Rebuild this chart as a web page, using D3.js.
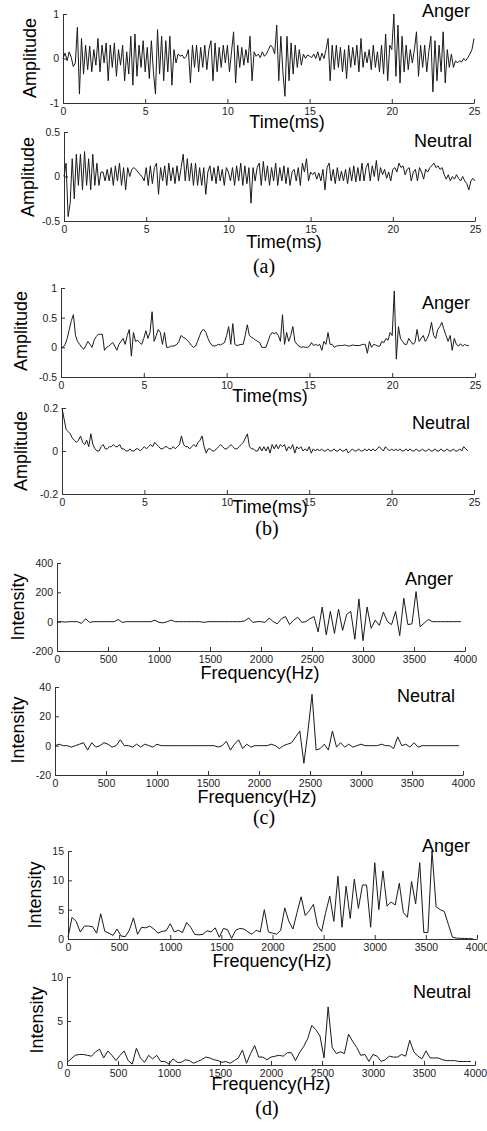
<!DOCTYPE html>
<html><head><meta charset="utf-8">
<script src="https://cdn.jsdelivr.net/npm/d3@7"></script>
<style>
html,body{margin:0;padding:0;background:#fff;}
svg{display:block;}
</style></head><body>
<svg id="c" width="487" height="1131"></svg>
<script>
// ---------------- DATA ----------------
const timeTicks = [0, 5, 10, 15, 20, 25];
const freqTicks = [0, 500, 1000, 1500, 2000, 2500, 3000, 3500, 4000];
const timeStepMs = 0.125;   // 8 kHz sampling
const freqStepHz = 40;      // FFT bin spacing

const yTicksWaveAnger = [-1, 0, 1];
const yTicksWaveNeutral = [-0.5, 0, 0.5];
const yTicksEnvAnger = [-0.5, 0, 0.5, 1];
const yTicksEnvNeutral = [-0.2, 0, 0.2];
const yTicksSpecAnger = [-200, 0, 200, 400];
const yTicksSpecNeutral = [-20, 0, 20, 40];
const yTicksMagAnger = [0, 5, 10, 15];
const yTicksMagNeutral = [0, 5, 10];

// (a) time waveform, Anger (one row per ms)
const angerWave = [
 0.0, 0.12, -0.05, 0.15, 0.03, -0.18, -0.1, 0.7,
 -0.8, 0.45, -0.35, 0.3, -0.25, 0.28, -0.3, 0.2,
 -0.15, 0.45, -0.3, 0.3, -0.1, 0.35, -0.5, 0.3,
 -0.2, 0.35, -0.4, 0.2, -0.15, 0.3, -0.5, 0.15,
 -0.35, 0.5, -0.6, 0.55, -0.4, 0.3, -0.2, 0.4,
 -0.3, 0.25, -0.45, 0.4, -0.3, -0.8, 0.65, -0.35,
 0.5, -0.5, 0.4, -0.3, 0.5, -0.6, 0.2, -0.1,
 0.1, 0.05, 0.08, 0.0, 0.05, 0.2, -0.55, 0.3,
 -0.2, 0.3, -0.3, 0.25, -0.2, 0.3, -0.25, 0.2,
 0.4, -0.5, 0.35, -0.3, 0.25, -0.2, 0.3, -0.1,
 0.3, -0.3, 0.15, 0.6, -0.55, 0.3, -0.2, 0.25,
 -0.15, 0.2, -0.1, 0.5, -0.5, 0.15, 0.05, 0.1,
 0.02, 0.15, 0.05, 0.1, 0.2, 0.3, 0.25, 0.1,
 0.75, -0.5, 0.5, -0.3, -0.85, 0.5, -0.5, 0.35,
 -0.35, 0.3, -0.2, 0.2, -0.15, 0.1, 0.0, 0.08,
 0.05, 0.02, 0.1, 0.0, 0.15, -0.05, 0.12, 0.0,
 0.2, 0.45, -0.5, 0.3, -0.25, 0.3, -0.2, 0.25,
 -0.3, 0.2, -0.45, 0.3, -0.2, 0.25, -0.15, 0.3,
 -0.3, 0.45, -0.2, 0.15, -0.1, 0.2, -0.25, 0.3,
 -0.2, 0.15, -0.3, 0.3, -0.35, 0.55, -0.5, 0.3,
 0.2, 1.0, -0.4, 0.75, -0.55, 0.5, -0.3, 0.3,
 -0.25, 0.2, -0.1, 0.2, 0.6, -0.4, 0.3, -0.2,
 0.3, -0.3, 0.15, 0.5, -0.75, 0.4, -0.5, 0.3,
 -0.3, 0.6, -0.55, 0.2, -0.2, 0.1, -0.2, -0.05,
 -0.1, -0.05, -0.08, 0.0, -0.05, 0.02, 0.1, 0.2,
 0.45
];

// (a) time waveform, Neutral
const neutralWave = [
 0.0, 0.15, -0.45, -0.3, 0.2, -0.25, 0.25, -0.1,
 0.25, -0.15, 0.28, -0.1, 0.2, -0.15, 0.25, -0.1,
 0.15, -0.1, 0.05, 0.05, -0.05, 0.08, -0.05, 0.1,
 -0.1, 0.12, -0.05, 0.15, -0.1, 0.1, -0.15, 0.1,
 0.0, 0.08, 0.1, 0.08, 0.05, 0.02, 0.0, -0.05,
 0.1, -0.1, 0.12, -0.08, 0.1, 0.15, -0.2, 0.1,
 -0.05, 0.12, -0.1, 0.15, -0.05, 0.1, -0.08, 0.12,
 -0.05, 0.1, 0.25, -0.05, 0.2, -0.05, 0.15, -0.1,
 0.15, -0.1, 0.1, -0.1, 0.1, -0.2, 0.05, 0.12,
 -0.05, 0.1, -0.08, 0.12, -0.05, 0.08, -0.1, 0.1,
 0.05, -0.05, 0.1, -0.1, 0.12, -0.05, 0.15, -0.1,
 0.12, -0.08, 0.1, -0.3, 0.1, -0.05, 0.1, 0.15,
 -0.1, 0.17, -0.05, 0.12, -0.1, 0.1, -0.05, 0.15,
 -0.1, 0.1, -0.05, 0.12, -0.08, 0.1, -0.1, 0.05,
 0.08, -0.05, 0.1, -0.1, 0.15, 0.05, 0.2, -0.05,
 0.05, 0.02, 0.05, -0.03, 0.04, -0.05, 0.08, -0.15,
 0.1, 0.15, -0.05, 0.08, -0.08, 0.1, -0.05, 0.06,
 -0.05, 0.08, -0.08, 0.1, -0.05, 0.12, -0.06, 0.1,
 -0.05, 0.15, -0.05, 0.1, 0.15, -0.05, 0.12, 0.0,
 0.18, -0.05, 0.1, 0.02, 0.08, -0.02, 0.05, -0.05,
 0.08, 0.1, 0.05, 0.15, 0.1, 0.12, 0.02, 0.08,
 0.1, -0.05, 0.05, 0.08, -0.05, 0.1, 0.05, -0.03,
 0.08, 0.05, 0.1, 0.12, 0.15, 0.1, 0.12, 0.08,
 0.1, 0.02, -0.03, 0.02, -0.05, 0.0, -0.03, 0.02,
 -0.02, -0.05, 0.0, -0.05, -0.08, -0.15, -0.05, -0.02,
 -0.05
];

// (b) Teager-energy-like contour, Anger
const angerEnv = [
 0.0, 0.0, 0.05, 0.15, 0.3, 0.45, 0.55, 0.2,
 0.1, 0.05, 0.0, -0.03, 0.03, 0.1, 0.05, 0.0,
 0.12, 0.18, 0.22, 0.22, 0.22, -0.05, 0.0, 0.02,
 0.05, 0.08, 0.02, -0.05, 0.05, 0.1, 0.15, 0.05,
 0.2, 0.3, -0.15, 0.25, 0.1, 0.12, 0.08, 0.05,
 0.15, 0.28, 0.15, 0.25, 0.6, 0.1, 0.2, 0.3,
 0.25, 0.05, 0.25, 0.0, 0.0, 0.02, 0.02, 0.03,
 0.05, 0.1, 0.2, 0.17, 0.15, 0.12, 0.08, 0.03,
 0.0, 0.02, 0.1, 0.2, 0.28, 0.3, 0.25, 0.15,
 0.08, 0.03, 0.02, 0.03, 0.05, 0.04, 0.06, 0.08,
 0.2, 0.35, 0.05, 0.4, 0.05, 0.03, 0.04, 0.05,
 0.05, 0.2, 0.38, 0.2, 0.17, 0.15, 0.12, 0.1,
 0.08, 0.0, 0.0, 0.0, 0.1, 0.2, 0.25, 0.23,
 0.25, 0.2, 0.1, 0.55, 0.05, 0.25, 0.1, 0.2,
 0.35, 0.1, 0.05, 0.02, 0.0, 0.01, 0.0, 0.0,
 0.02, 0.08, 0.03, 0.05, 0.03, 0.05, -0.05, 0.1,
 0.05, 0.25, 0.05, 0.05, 0.0, 0.02, 0.03, 0.03,
 0.03, 0.04, 0.03, 0.02, 0.03, 0.04, 0.03, 0.03,
 0.03, 0.04, 0.05, 0.05, -0.1, 0.1, 0.0, 0.05,
 0.04, 0.02, 0.02, 0.1, 0.08, 0.15, 0.12, 0.25,
 0.2, 0.95, -0.2, 0.35, 0.15, 0.1, 0.05, 0.05,
 0.15, 0.1, 0.05, 0.08, 0.3, 0.1, 0.15, 0.2,
 0.1, 0.15, 0.25, 0.42, 0.2, 0.15, 0.3, 0.35,
 0.42, 0.3, 0.2, 0.1, 0.2, -0.05, 0.15, 0.05,
 0.02, 0.06, 0.02, 0.05, 0.03, 0.03
];

// (b) contour, Neutral
const neutralEnv = [
 0.2, 0.15, 0.1, 0.09, 0.08, 0.06, 0.05, 0.04,
 0.05, 0.07, 0.04, 0.03, 0.05, 0.02, 0.08, 0.03,
 0.01, 0.0, 0.0, 0.02, 0.03, 0.01, 0.01, 0.02,
 0.02, 0.03, 0.02, 0.02, 0.03, 0.01, 0.01, 0.0,
 0.0, 0.01, 0.0, 0.0, 0.01, 0.01, 0.0, 0.01,
 0.02, 0.01, 0.02, 0.03, 0.02, 0.04, 0.03, 0.02,
 0.01, 0.01, 0.02, 0.02, 0.01, 0.01, 0.02, 0.01,
 0.02, 0.03, 0.07, 0.03, 0.02, 0.02, 0.01, 0.02,
 0.03, 0.02, 0.04, 0.05, 0.07, 0.02, -0.01, 0.01,
 0.01, 0.0, 0.0, 0.01, 0.02, 0.03, 0.02, 0.01,
 0.01, 0.02, 0.03, 0.02, 0.01, 0.01, 0.02, 0.03,
 0.04, 0.06, 0.08, 0.02, 0.01, 0.01, 0.0, 0.0,
 0.02, 0.0, 0.02, 0.0, 0.02, -0.01, 0.03, 0.01,
 0.03, 0.01, 0.03, 0.02, 0.03, 0.0, 0.02, 0.01,
 0.03, -0.01, 0.02, 0.01, 0.02, 0.0, 0.01, 0.0,
 0.02, -0.01, 0.01, 0.0, 0.01, 0.0, 0.01, 0.0,
 0.0, 0.01, 0.0, 0.0, 0.01, 0.0, 0.0, 0.01,
 0.0, 0.0, 0.01, -0.01, 0.0, 0.01, 0.0, 0.0,
 0.01, 0.0, 0.0, 0.01, 0.0, 0.01, 0.0, 0.01,
 0.0, 0.01, 0.02, 0.01, 0.0, 0.02, 0.01, 0.0,
 0.01, 0.0, 0.01, 0.0, 0.01, 0.0, 0.0, 0.01,
 0.0, 0.01, 0.0, 0.0, 0.01, 0.0, 0.0, 0.01,
 0.0, 0.0, 0.01, 0.0, 0.0, 0.01, 0.0, 0.0,
 0.01, 0.0, 0.0, 0.01, 0.0, 0.0, 0.01, 0.0,
 0.0, 0.01, 0.0, 0.02, 0.01, 0.0
];

// (c) spectrum (signed), Anger — bins of 40 Hz
const angerSpec = [
 0, 0, -3, 0, 0, 0, -12, 20, -5, 0,
 0, 0, 0, 0, 0, 15, -5, 0, 0, 0,
 0, 0, 0, 0, 10, -5, -8, 0, 10, 0,
 0, 0, 0, 0, 0, 0, -5, 0, 0, 0,
 0, 0, 0, 0, 0, 0, 5, 25, -5, 0,
 0, -5, 25, 0, -15, 20, 35, -20, 10, 30,
 -5, 0, 20, 35, -70, 100, -90, 70, -80, 85,
 -60, 50, 70, -120, 155, -130, 100, -45, 10, -25,
 65, 0, -20, 70, -95, 160, -20, -15, 205, -35,
 -10, 15, 0, 0, 0, 0, 0, 0, 0, 0
];

// (c) spectrum (signed), Neutral
const neutralSpec = [
 0, 1, 0, 0, -1, 0, 1, 2, -3, 2,
 -1, 0, 2, 1, -1, 0, 4, 0, 0, -1,
 1, -1, 1, 0, -1, 1, 0, 0, 0, 0,
 0, 0, 0, 0, 0, 0, 0, 0, 0, 0,
 -1, 0, 3, -3, 1, 4, -2, 1, -1, 0,
 0, 0, 0, 1, 0, -2, 0, 1, 2, 6,
 10, -12, 10, 35, -3, -2, 1, -3, 10, -1,
 2, -1, 1, -1, 0, 1, 0, 0, 0, 0,
 1, 0, 0, -2, 6, 0, 1, -1, 2, -1,
 0, 0, 0, 0, 0, 0, 0, 0, 0, 0
];

// (d) magnitude spectrum, Anger
const angerMag = [
 0.3, 3.7, 3.0, 1.2, 2.2, 2.2, 2.1, 1.0, 4.3, 1.3,
 1.0, 0.6, 1.7, 0.5, 0.4, 1.5, 3.6, 0.8, 2.0, 1.9,
 2.2, 1.7, 1.0, 1.3, 1.4, 2.6, 1.2, 1.5, 1.1, 2.8,
 2.0, 0.8, 0.7, 0.8, 1.4, 1.2, 1.9, 0.3, 1.8, 1.6,
 0.1, 1.5, 1.8, 1.7, 1.2, 0.8, 1.5, 1.2, 5.0, 1.2,
 1.0, 0.8, 1.5, 5.3, 3.0, 1.7, 4.5, 7.2, 4.0, 4.8,
 5.9, 2.3, 1.3, 4.5, 7.3, 3.0, 10.7, 2.0, 9.0, 3.5,
 10.2, 5.2, 9.2, 9.2, 2.0, 13.0, 5.0, 11.6, 5.6, 6.3,
 5.8, 9.5, 4.5, 3.7, 9.8, 6.0, 13.0, 1.1, 1.1, 15.0,
 5.5, 5.0, 4.7, 2.5, 0.3, 0.15, 0.1, 0.1, 0.05, 0.05
];

// (d) magnitude spectrum, Neutral
const neutralMag = [
 0.3, 0.7, 1.1, 1.2, 1.2, 1.1, 1.0, 1.5, 1.8, 0.8,
 1.6, 1.1, 0.5, 1.1, 1.6, 0.5, 0.1, 1.9, 0.8, 0.3,
 1.1, 0.7, 1.1, 0.4, 0.4, 0.1, 0.7, 0.3, 0.3, 0.6,
 0.5, 0.2, 0.4, 0.6, 0.9, 0.8, 0.6, 0.5, 0.3, 0.4,
 0.2, 0.5, 0.8, 1.7, 0.2, 1.3, 2.2, 0.9, 0.9, 0.6,
 0.9, 1.0, 1.1, 1.0, 1.4, 1.4, 0.5, 1.4, 2.1, 3.0,
 4.5, 4.0, 3.3, 0.8, 6.6, 2.0, 1.3, 1.5, 1.3, 3.5,
 2.7, 2.0, 1.1, 1.2, 0.4, 1.2, 1.0, 0.4, 0.6, 1.0,
 0.9, 0.9, 1.2, 1.0, 2.8, 1.5, 1.0, 0.7, 1.6, 0.8,
 0.8, 0.8, 0.6, 0.5, 0.5, 0.5, 0.4, 0.4, 0.4, 0.4
];

// ---------------- LAYOUT ----------------
const panels = [
 {data: angerWave, step: timeStepMs, xDomain: [0, 25], xTicks: timeTicks, yDomain: [-1, 1], yTicks: yTicksWaveAnger,
  x0: 63, x1: 474, yTop: 14, yBot: 103, yLabel: "Amplitude", yl: [30, 58], xLabel: "Time(ms)", xl: [287, 128], tag: "Anger", tg: [470, 17]},
 {data: neutralWave, step: timeStepMs, xDomain: [0, 25], xTicks: timeTicks, yDomain: [-0.5, 0.5], yTicks: yTicksWaveNeutral,
  x0: 64, x1: 475, yTop: 132, yBot: 221, yLabel: "Amplitude", yl: [28, 177], xLabel: "Time(ms)", xl: [284, 248], tag: "Neutral", tg: [472, 147]},
 {data: angerEnv, step: timeStepMs, xDomain: [0, 25], xTicks: timeTicks, yDomain: [-0.5, 1], yTicks: yTicksEnvAnger,
  x0: 61, x1: 475, yTop: 288, yBot: 377, yLabel: "Amplitude", yl: [21, 331], xLabel: "Time(ms)", xl: [270, 402], tag: "Anger", tg: [470, 309]},
 {data: neutralEnv, step: timeStepMs, xDomain: [0, 25], xTicks: timeTicks, yDomain: [-0.2, 0.2], yTicks: yTicksEnvNeutral,
  x0: 62, x1: 474, yTop: 408, yBot: 494, yLabel: "Amplitude", yl: [21, 451], xLabel: "Time(ms)", xl: [270, 513], tag: "Neutral", tg: [470, 429]},
 {data: angerSpec, step: freqStepHz, xDomain: [0, 4000], xTicks: freqTicks, yDomain: [-200, 400], yTicks: yTicksSpecAnger,
  x0: 57, x1: 465, yTop: 563, yBot: 651, yLabel: "Intensity", yl: [18, 607], xLabel: "Frequency(Hz)", xl: [260, 679], tag: "Anger", tg: [453, 585]},
 {data: neutralSpec, step: freqStepHz, xDomain: [0, 4000], xTicks: freqTicks, yDomain: [-20, 40], yTicks: yTicksSpecNeutral,
  x0: 55, x1: 463, yTop: 687, yBot: 775, yLabel: "Intensity", yl: [18, 730], xLabel: "Frequency(Hz)", xl: [257, 803], tag: "Neutral", tg: [455, 702]},
 {data: angerMag, step: freqStepHz, xDomain: [0, 4000], xTicks: freqTicks, yDomain: [0, 15], yTicks: yTicksMagAnger,
  x0: 68, x1: 477, yTop: 851, yBot: 939, yLabel: "Intensity", yl: [35, 895], xLabel: "Frequency(Hz)", xl: [272, 967], tag: "Anger", tg: [470, 852]},
 {data: neutralMag, step: freqStepHz, xDomain: [0, 4000], xTicks: freqTicks, yDomain: [0, 10], yTicks: yTicksMagNeutral,
  x0: 67, x1: 475, yTop: 977, yBot: 1065, yLabel: "Intensity", yl: [37, 1020], xLabel: "Frequency(Hz)", xl: [271, 1090], tag: "Neutral", tg: [471, 998]}
];

const captions = [
 {text: "(a)", x: 264, y: 266},
 {text: "(b)", x: 267, y: 528},
 {text: "(c)", x: 264, y: 817},
 {text: "(d)", x: 267, y: 1108}
];

const svg = d3.select("#c");
const sans = "Arial, 'Liberation Sans', Helvetica, sans-serif";

panels.forEach(p => {
  const x = d3.scaleLinear().domain(p.xDomain).range([p.x0, p.x1]);
  const y = d3.scaleLinear().domain(p.yDomain).range([p.yBot, p.yTop]);
  const g = svg.append("g");

  const xa = g.append("g").attr("transform", `translate(0,${p.yBot})`)
    .call(d3.axisBottom(x).tickValues(p.xTicks).tickSizeInner(-4).tickSizeOuter(0).tickPadding(5).tickFormat(d => String(d)));
  const ya = g.append("g").attr("transform", `translate(${p.x0},0)`)
    .call(d3.axisLeft(y).tickValues(p.yTicks).tickSizeInner(-4).tickSizeOuter(0).tickPadding(4).tickFormat(d => String(d)));
  [xa, ya].forEach(a => {
    a.select(".domain").attr("stroke", "#333").attr("stroke-width", 1);
    a.selectAll(".tick line").attr("stroke", "#333");
    a.selectAll(".tick text").attr("fill", "#222").style("font-family", sans).style("font-size", "10.5px");
  });

  const line = d3.line().x((d, i) => x(i * p.step)).y(d => y(d));
  g.append("path").datum(p.data).attr("d", line)
    .attr("fill", "none").attr("stroke", "#1a1a1a").attr("stroke-width", 1).attr("stroke-linejoin", "round");

  g.append("text").attr("transform", `translate(${p.yl[0]},${p.yl[1]}) rotate(-90)`)
    .attr("text-anchor", "middle").attr("dominant-baseline", "central")
    .style("font-family", sans).style("font-size", "18px").attr("fill", "#000").text(p.yLabel);
  g.append("text").attr("x", p.xl[0]).attr("y", p.xl[1]).attr("text-anchor", "middle")
    .style("font-family", sans).style("font-size", "18px").attr("fill", "#000").text(p.xLabel);
  g.append("text").attr("x", p.tg[0]).attr("y", p.tg[1]).attr("text-anchor", "end")
    .style("font-family", sans).style("font-size", "18px").attr("fill", "#000").text(p.tag);
});

captions.forEach(c => {
  svg.append("text").attr("x", c.x).attr("y", c.y).attr("text-anchor", "middle").attr("dominant-baseline", "central")
    .style("font-family", "'Times New Roman', 'Liberation Serif', serif").style("font-size", "20px").attr("fill", "#000").text(c.text);
});
</script>
</body></html>
